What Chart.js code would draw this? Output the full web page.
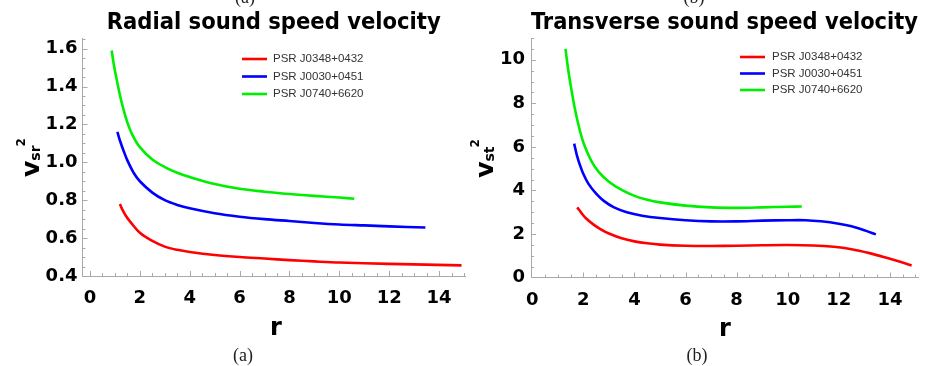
<!DOCTYPE html>
<html><head><meta charset="utf-8">
<script src="https://cdn.jsdelivr.net/npm/chart.js@4.4.1/dist/chart.umd.min.js"></script>
<style>
html,body{margin:0;padding:0;background:#fff;overflow:hidden;width:933px;height:366px}
#wrapA{position:absolute;left:0;top:0;width:470px;height:366px}
#wrapB{position:absolute;left:470px;top:0;width:463px;height:366px}
canvas{display:block}
</style></head><body>
<div id="wrapA"><canvas id="cA" width="470" height="366"></canvas></div>
<div id="wrapB"><canvas id="cB" width="463" height="366"></canvas></div>
<script>
// ---------- data ----------
const seriesNames = ['PSR J0348+0432', 'PSR J0030+0451', 'PSR J0740+6620'];
const seriesColors = ['#ff0000', '#0000ff', '#00ee00'];
const xTicks = [0, 2, 4, 6, 8, 10, 12, 14];
const yTicksA = [0.4, 0.6, 0.8, 1.0, 1.2, 1.4, 1.6];
const yTicksB = [0, 2, 4, 6, 8, 10];

// (a) radial sound speed v_sr^2
const rA_J0348 = [1.2, 1.3, 1.45, 1.65, 2, 2.5, 3, 3.5, 4, 5, 6, 7, 8, 9, 10, 12, 14.9];
const vA_J0348 = [0.78, 0.75, 0.715, 0.68, 0.628, 0.585, 0.555, 0.538, 0.527, 0.511, 0.5, 0.492, 0.484, 0.477, 0.471, 0.464, 0.456];
const rA_J0030 = [1.1, 1.2, 1.35, 1.5, 1.75, 2, 2.5, 3, 3.5, 4, 5, 6, 7, 8, 9, 10, 11, 12, 13.45];
const vA_J0030 = [1.16, 1.115, 1.06, 1.01, 0.945, 0.9, 0.84, 0.8, 0.775, 0.757, 0.731, 0.713, 0.7, 0.69, 0.68, 0.672, 0.667, 0.662, 0.656];
const rA_J0740 = [0.87, 0.95, 1.05, 1.2, 1.35, 1.5, 1.7, 2, 2.5, 3, 3.5, 4, 5, 6, 7, 8, 9, 10, 10.6];
const vA_J0740 = [1.59, 1.52, 1.45, 1.355, 1.275, 1.21, 1.145, 1.08, 1.015, 0.975, 0.945, 0.922, 0.885, 0.86, 0.845, 0.833, 0.823, 0.814, 0.808];

// (b) transverse sound speed v_st^2
const rB_J0348 = [1.76, 1.9, 2.1, 2.4, 2.7, 3, 3.5, 4, 4.5, 5, 6, 7, 8, 9, 10, 11, 11.8, 12.5, 13.2, 13.8, 14.4, 14.85];
const vB_J0348 = [3.22, 3.0, 2.72, 2.43, 2.2, 2.02, 1.8, 1.66, 1.57, 1.51, 1.46, 1.45, 1.46, 1.48, 1.49, 1.47, 1.41, 1.3, 1.12, 0.93, 0.72, 0.55];
const rB_J0030 = [1.64, 1.75, 1.87, 2, 2.2, 2.5, 2.8, 3.2, 3.7, 4.3, 5, 6, 7, 8, 9, 10, 10.7, 11.3, 12, 12.5, 13, 13.45];
const vB_J0030 = [6.15, 5.6, 5.15, 4.75, 4.3, 3.85, 3.52, 3.22, 3.0, 2.84, 2.73, 2.63, 2.58, 2.58, 2.61, 2.63, 2.63, 2.58, 2.47, 2.35, 2.17, 1.98];
const rB_J0740 = [1.3, 1.4, 1.5, 1.65, 1.8, 2, 2.3, 2.6, 3, 3.5, 4, 4.5, 5, 6, 7, 8, 9, 10, 10.55];
const vB_J0740 = [10.5, 9.6, 8.85, 7.85, 7.05, 6.2, 5.38, 4.85, 4.4, 4.02, 3.75, 3.57, 3.45, 3.3, 3.22, 3.2, 3.22, 3.25, 3.26];

// ---------- helpers ----------
const pts = (xs, ys) => xs.map((x, i) => ({x: x, y: ys[i]}));
const AXIS_COLOR = '#a9a9a9';
const TITLE_FAMILY = '"DejaVu Sans Condensed", "DejaVu Sans"';

function makeDatasets(list) {
  return list.map((pair, i) => ({
    label: seriesNames[i],
    data: pts(pair[0], pair[1]),
    borderColor: seriesColors[i],
    backgroundColor: seriesColors[i],
    borderWidth: 2.6,
    pointRadius: 0,
    fill: false,
    tension: 0.35
  }));
}

// inward Mathematica-style ticks, drawn through the chart's scales
const inwardTicks = {
  id: 'inwardTicks',
  afterDatasetsDraw(chart, args, o) {
    const ctx = chart.ctx, xs = chart.scales.x, ys = chart.scales.y;
    const ca = chart.chartArea;
    ctx.save();
    ctx.strokeStyle = AXIS_COLOR;
    ctx.lineWidth = 1;
    const loop = (scale, minor, major, fn) => {
      const k0 = Math.ceil(scale.min / minor - 1e-9), k1 = Math.floor(scale.max / minor + 1e-9);
      for (let k = k0; k <= k1; k++) {
        const v = k * minor;
        const r = v / major;
        fn(scale.getPixelForValue(v), Math.abs(r - Math.round(r)) < 1e-6);
      }
    };
    ctx.beginPath();
    loop(xs, o.xMinor, o.xMajor, (px, maj) => {
      if (px < ca.left + 2) return;
      const p = Math.round(px) + 0.5;
      ctx.moveTo(p, ca.bottom); ctx.lineTo(p, ca.bottom - (maj ? 5 : 3));
    });
    loop(ys, o.yMinor, o.yMajor, (py, maj) => {
      if (py > ca.bottom - 2) return;
      const p = Math.round(py) + 0.5;
      ctx.moveTo(ca.left, p); ctx.lineTo(ca.left + (maj ? 5 : 3), p);
    });
    ctx.stroke();
    ctx.restore();
  }
};

// extra texts: axis titles with sub/superscripts, legend, captions
const decor = {
  id: 'decor',
  afterDraw(chart, args, o) {
    const ctx = chart.ctx;
    ctx.save();
    // legend
    chart.data.datasets.forEach((ds, i) => {
      const y = o.legY[i];
      ctx.strokeStyle = ds.borderColor;
      ctx.lineWidth = 2.6;
      ctx.beginPath(); ctx.moveTo(o.legX0, y); ctx.lineTo(o.legX1, y); ctx.stroke();
      ctx.fillStyle = '#333';
      ctx.font = '11.5px "Liberation Sans", Arial, sans-serif';
      ctx.textAlign = 'left'; ctx.textBaseline = 'middle';
      ctx.fillText(ds.label, o.legTextX, y);
    });
    // x title
    ctx.fillStyle = '#000';
    ctx.font = 'bold 24px "DejaVu Sans"';
    ctx.textAlign = 'center'; ctx.textBaseline = 'alphabetic';
    ctx.fillText('r', o.xTitleX, o.xTitleY);
    // y title v_sub^2 rotated
    ctx.save();
    ctx.translate(o.yTitleX, o.yTitleY);
    ctx.rotate(-Math.PI / 2);
    ctx.textAlign = 'left'; ctx.textBaseline = 'alphabetic';
    const fMain = 'bold 25px "DejaVu Sans"', fSub = 'bold 14px "DejaVu Sans"', fSup = 'bold 12px "DejaVu Sans"';
    ctx.font = fMain; const wM = ctx.measureText('v').width;
    ctx.font = fSub; const wS = ctx.measureText(o.ySub).width;
    ctx.font = fSup; const wP = ctx.measureText('2').width;
    let s = -(wM + wS + wP) / 2;
    ctx.font = fMain; ctx.fillText('v', s, 0);
    ctx.font = fSub; ctx.fillText(o.ySub, s + wM, 1);
    ctx.font = fSup; ctx.fillText('2', s + wM + wS - 1, -14);
    ctx.restore();
    // captions
    ctx.font = '18px "Liberation Serif", "DejaVu Serif", serif';
    ctx.textAlign = 'center'; ctx.textBaseline = 'alphabetic';
    ctx.fillStyle = '#222';
    ctx.fillText(o.caption, o.capX, 361);
    ctx.fillText(o.caption, o.capTopX, 3);
    ctx.restore();
  }
};

function makeChart(canvasId, cfg) {
  return new Chart(document.getElementById(canvasId), {
    type: 'line',
    data: {datasets: makeDatasets(cfg.series)},
    plugins: [inwardTicks, decor],
    options: {
      responsive: false,
      animation: false,
      devicePixelRatio: 1,
      events: [],
      layout: {padding: cfg.padding},
      plugins: {
        legend: {display: false},
        tooltip: {enabled: false},
        title: {
          display: true,
          text: cfg.title,
          fullSize: false,
          color: '#000',
          font: {family: TITLE_FAMILY, weight: 'bold', size: 23.5, lineHeight: 1.2},
          padding: {top: 9.2, bottom: 0.6}
        },
        inwardTicks: cfg.tickOpts,
        decor: cfg.decor
      },
      scales: {
        x: {
          type: 'linear', bounds: 'data',
          min: cfg.xMin, max: cfg.xMax,
          afterBuildTicks: s => { s.ticks = xTicks.map(v => ({value: v})); },
          afterFit: s => { s.height = 40; },
          grid: {display: false, drawTicks: false},
          border: {display: true, color: AXIS_COLOR, width: 1},
          ticks: {
            color: '#000', padding: 12, maxRotation: 0, autoSkip: false,
            font: {family: '"DejaVu Sans"', weight: 'bold', size: 18},
            callback: v => String(v)
          }
        },
        y: {
          type: 'linear', bounds: 'data',
          min: cfg.yMin, max: cfg.yMax,
          afterBuildTicks: s => { s.ticks = cfg.yTicks.map(v => ({value: v})); },
          afterFit: s => { s.width = cfg.yWidth; },
          grid: {display: false, drawTicks: false},
          border: {display: true, color: AXIS_COLOR, width: 1},
          ticks: {
            color: '#000', padding: cfg.yPad, autoSkip: false,
            font: {family: '"DejaVu Sans"', weight: 'bold', size: 18},
            callback: cfg.yFmt
          }
        }
      }
    }
  });
}

makeChart('cA', {
  title: 'Radial sound speed velocity',
  series: [[rA_J0348, vA_J0348], [rA_J0030, vA_J0030], [rA_J0740, vA_J0740]],
  padding: {left: 32.5, right: 5, top: 0, bottom: 50},
  yWidth: 50, yPad: 5,
  xMin: -0.3, xMax: 15.04, yMin: 0.4, yMax: 1.656,
  yTicks: yTicksA,
  yFmt: v => Number(v).toFixed(1),
  tickOpts: {xMinor: 0.5, xMajor: 2, yMinor: 0.05, yMajor: 0.2},
  decor: {
    legY: [59, 76.5, 94], legX0: 242, legX1: 267, legTextX: 273,
    xTitleX: 276, xTitleY: 335,
    yTitleX: 39, yTitleY: 157, ySub: 'sr',
    caption: '(a)', capX: 243, capTopX: 245
  }
});

makeChart('cB', {
  title: 'Transverse sound speed velocity',
  series: [[rB_J0348, vB_J0348], [rB_J0030, vB_J0030], [rB_J0740, vB_J0740]],
  padding: {left: 21, right: 15, top: 0, bottom: 48.5},
  yWidth: 40, yPad: 6,
  xMin: -0.05, xMax: 15.1, yMin: 0, yMax: 11.0,
  yTicks: yTicksB,
  yFmt: v => String(v),
  tickOpts: {xMinor: 0.5, xMajor: 2, yMinor: 0.5, yMajor: 2},
  decor: {
    legY: [57, 73.5, 90], legX0: 270, legX1: 295, legTextX: 302,
    xTitleX: 255, xTitleY: 336,
    yTitleX: 23, yTitleY: 158, ySub: 'st',
    caption: '(b)', capX: 227, capTopX: 224
  }
});
</script>
</body></html>
